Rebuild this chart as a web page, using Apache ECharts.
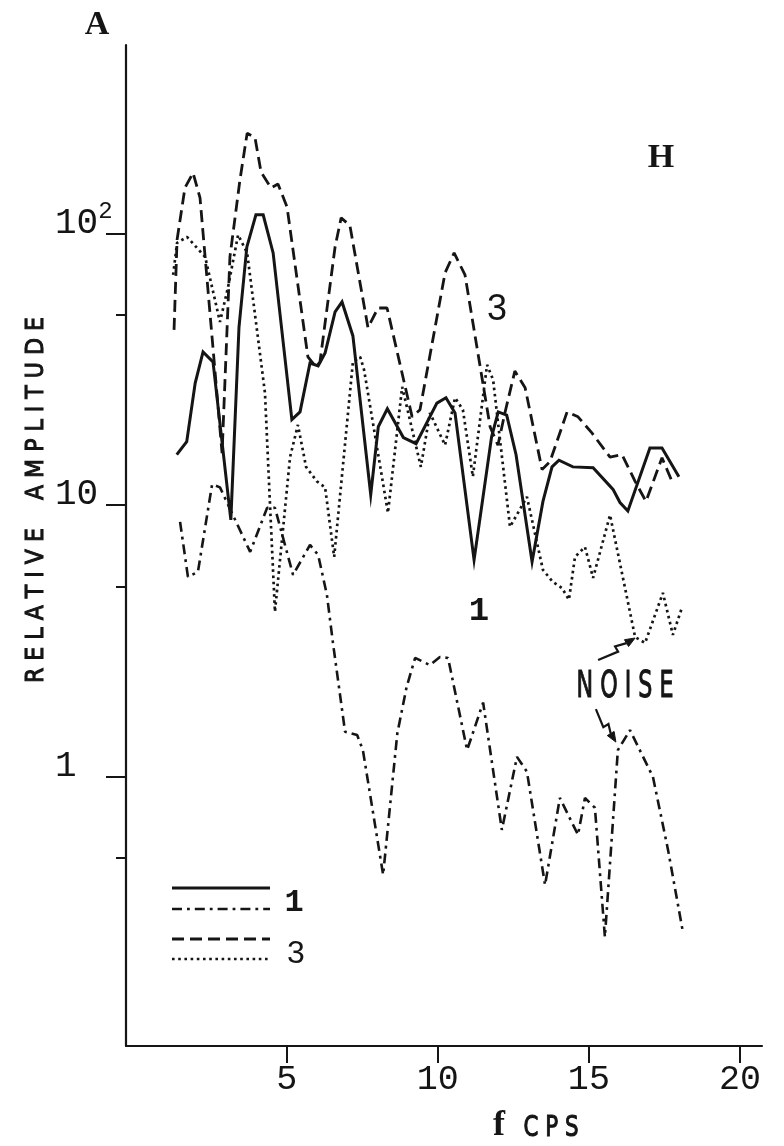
<!DOCTYPE html>
<html>
<head>
<meta charset="utf-8">
<script src="https://cdn.jsdelivr.net/npm/echarts@6/dist/echarts.min.js"></script>
<style>
  html, body { margin: 0; padding: 0; background: #ffffff; }
  #chart { width: 784px; height: 1146px; }
</style>
</head>
<body>
<div id="chart"></div>
<script>
// Horizontal-component spectra: relative amplitude against frequency (cps).
// Station 1 and station 3, each with its record spectrum and its noise spectrum.

const freq1Signal = [1.36, 1.69, 1.97, 2.23, 2.56, 3.15, 3.42, 3.68, 3.98, 4.22, 4.55, 5.17, 5.44, 5.77, 6.04,
  6.27, 6.60, 6.83, 7.19, 7.78, 8.03, 8.33, 8.86, 9.28, 9.97, 10.27, 10.57, 11.20, 11.78, 12.00,
  12.28, 12.59, 13.12, 13.48, 13.78, 14.01, 14.47, 15.14, 15.80, 16.03, 16.29, 17.02, 17.42, 17.98];
const amp1Signal = [15.3, 17.1, 28.1, 36.6, 33.6, 8.8, 45.2, 89.1, 117, 117, 84.7, 20.6, 22.0, 33.3, 32.5,
  36.3, 51.4, 55.9, 41.9, 10.9, 19.4, 22.6, 17.7, 16.8, 23.7, 24.8, 21.8, 6.27, 17.8, 22.0,
  21.4, 15.3, 6.17, 10.3, 13.8, 14.6, 13.8, 13.7, 11.4, 10.2, 9.5, 16.2, 16.2, 12.7];

const freq1Noise = [1.47, 1.73, 2.06, 2.53, 2.79, 3.79, 4.35, 4.61, 5.21, 5.77, 6.04, 6.33, 6.53, 6.93, 7.33,
  7.52, 8.19, 8.66, 8.97, 9.25, 9.74, 10.07, 10.34, 10.97, 11.50, 12.12, 12.62, 12.95, 13.55, 14.04,
  14.64, 14.87, 15.20, 15.53, 15.96, 16.36, 17.12, 17.62, 18.11];
const amp1Noise = [8.66, 5.43, 5.66, 11.9, 11.6, 6.71, 9.75, 9.75, 5.52, 7.12, 6.54, 4.66, 3.10, 1.46, 1.42,
  1.25, 0.434, 1.44, 2.14, 2.73, 2.57, 2.75, 2.73, 1.25, 1.87, 0.635, 1.18, 1.04, 0.398, 0.833,
  0.609, 0.833, 0.766, 0.256, 1.25, 1.48, 0.996, 0.536, 0.268];

const freq3Signal = [1.27, 1.37, 1.63, 1.90, 2.13, 2.86, 3.12, 3.45, 3.69, 3.95, 4.15, 4.48, 4.71, 5.01, 5.70,
  5.97, 6.10, 6.60, 6.80, 7.09, 7.69, 8.02, 8.32, 9.15, 9.41, 10.24, 10.54, 10.90, 11.73, 11.99,
  12.22, 12.55, 12.89, 13.45, 13.71, 14.28, 14.64, 15.10, 15.70, 16.10, 16.53, 16.89, 17.42, 17.78];
const amp3Signal = [44.1, 94.6, 147, 167, 135, 15.5, 81.9, 157, 234, 225, 168, 147, 152, 125, 35.1,
  32.2, 33.6, 89.1, 114, 107, 44.9, 53.1, 53.1, 21.1, 22.4, 71.5, 84.7, 70.3, 19.4, 16.6,
  21.8, 31.1, 27.0, 13.5, 14.4, 22.0, 21.1, 18.4, 15.0, 15.3, 12.2, 10.3, 14.9, 12.0];

const freq3Noise = [1.24, 1.37, 1.70, 2.30, 2.79, 3.06, 3.39, 3.69, 4.28, 4.45, 4.61, 5.11, 5.37, 5.64, 6.00,
  6.27, 6.57, 7.19, 7.43, 7.56, 8.35, 8.82, 9.44, 9.74, 10.24, 10.57, 10.83, 11.16, 11.63, 11.83,
  12.39, 12.95, 13.48, 13.81, 14.11, 14.34, 14.54, 14.87, 15.14, 15.70, 16.53, 16.86, 17.45, 17.78, 18.08];
const amp3Noise = [70.3, 92.2, 97.0, 81.9, 47.2, 63.5, 98.7, 84.7, 25.8, 9.8, 4.04, 15.0, 19.7, 13.8, 12.2,
  11.6, 6.43, 33.6, 35.1, 31.4, 9.34, 27.2, 13.8, 21.8, 16.6, 24.8, 22.4, 12.7, 32.8, 28.9,
  8.30, 10.7, 5.76, 5.20, 4.94, 4.47, 6.43, 7.00, 5.38, 9.18, 3.26, 3.10, 4.74, 3.32, 4.18];

const xTickValues = [5, 10, 15, 20];
const yMajorTicks = [1, 10, 100];
const yMinorTicks = [0.5, 5, 50];
// points the two NOISE arrows end on: [frequency, amplitude]
const noiseArrow3 = [16.53, 3.26];
const noiseArrow1 = [15.96, 1.25];

const ink = '#151515';
const pairs = (f, a) => f.map((x, i) => [x, a[i]]);

const chart = echarts.init(document.getElementById('chart'), null, { renderer: 'canvas' });

const measureCtx = document.createElement('canvas').getContext('2d');
function textWidth(text, font) {
  measureCtx.font = font;
  return measureCtx.measureText(text).width;
}

// lettering squeezed along its run to a given length, strokes slightly thickened
function fittedText(text, size, family, cx, cy, targetLen, rotation) {
  const font = 'normal ' + size + 'px ' + family;
  const w = textWidth(text, font);
  return {
    type: 'text', x: cx, y: cy, rotation: rotation || 0,
    scaleX: targetLen / w, scaleY: 1, z: 10,
    style: { text, font, fill: ink, stroke: ink, lineWidth: 1.1,
             align: 'center', verticalAlign: 'middle', textAlign: 'center', textVerticalAlign: 'middle' }
  };
}
function plainText(text, size, family, weight, cx, cy) {
  return {
    type: 'text', x: cx, y: cy, z: 10,
    style: { text, font: weight + ' ' + size + 'px ' + family, fill: ink,
             align: 'center', verticalAlign: 'middle', textAlign: 'center', textVerticalAlign: 'middle' }
  };
}

const solidStyle = { color: ink, width: 3, type: 'solid', cap: 'butt', join: 'miter' };
const dashStyle = { color: ink, width: 2.8, type: [12, 6], cap: 'butt' };
const dotStyle = { color: ink, width: 2.7, type: [2.6, 3.6], cap: 'butt' };
const dashDotStyle = { color: ink, width: 2.6, type: [10, 5, 2.8, 5], cap: 'butt' };

const option = {
  backgroundColor: '#ffffff',
  animation: false,
  grid: { left: 126, top: 45, width: 636, height: 1001 },
  xAxis: {
    type: 'value', min: -0.32, max: 20.73,
    axisLine: { show: true, onZero: false, lineStyle: { color: ink, width: 2.2 } },
    axisTick: { show: true, inside: false, length: 17, customValues: xTickValues,
                lineStyle: { color: ink, width: 2 } },
    axisLabel: { customValues: xTickValues, margin: 16, color: ink,
                 fontFamily: 'Liberation Mono', fontSize: 35 },
    splitLine: { show: false }
  },
  yAxis: [
    {
      type: 'log', logBase: 10, min: 0.1016, max: 494, position: 'left', offset: 0,
      axisLine: { show: true, onZero: false, lineStyle: { color: ink, width: 2.2 } },
      axisTick: { show: true, inside: false, length: 20, customValues: yMajorTicks,
                  lineStyle: { color: ink, width: 2 } },
      axisLabel: {
        customValues: yMajorTicks, align: 'left', margin: 71, verticalAlign: 'bottom',
        formatter: v => (v === 100 ? '{n|10}{s|2}' : '{n|' + v + '}'),
        rich: {
          // digits sit just above their tick; the exponent is lifted by its bottom padding
          n: { fontFamily: 'Liberation Mono', fontSize: 36, lineHeight: 20, color: ink },
          s: { fontFamily: 'Liberation Mono', fontSize: 24, lineHeight: 1, padding: [0, 0, 24, 0], color: ink }
        }
      },
      splitLine: { show: false }, minorTick: { show: false }
    },
    {
      type: 'log', logBase: 10, min: 0.1016, max: 494, position: 'left', offset: 0,
      axisLine: { show: false, onZero: false },
      axisTick: { show: true, inside: false, length: 10, customValues: yMinorTicks,
                  lineStyle: { color: ink, width: 2 } },
      axisLabel: { show: false },
      splitLine: { show: false }
    }
  ],
  series: [
    { name: '1', type: 'line', data: pairs(freq1Signal, amp1Signal), symbol: 'none', lineStyle: solidStyle, z: 4 },
    { name: '1 noise', type: 'line', data: pairs(freq1Noise, amp1Noise), symbol: 'none', lineStyle: dashDotStyle, z: 3 },
    { name: '3', type: 'line', data: pairs(freq3Signal, amp3Signal), symbol: 'none', lineStyle: dashStyle, z: 3 },
    { name: '3 noise', type: 'line', data: pairs(freq3Noise, amp3Noise), symbol: 'none', lineStyle: dotStyle, z: 3 }
  ]
};
chart.setOption(option);

// zig-zag arrow ending at a point, coming from an offset tail
function zigArrow(tip, dx, dy) {
  const tail = [tip[0] + dx, tip[1] + dy];
  const d = [tip[0] - tail[0], tip[1] - tail[1]];
  const len = Math.hypot(d[0], d[1]);
  const u = [d[0] / len, d[1] / len];
  const n = [-u[1], u[0]];
  const m1 = [tail[0] + 0.5 * d[0] + 3 * n[0], tail[1] + 0.5 * d[1] + 3 * n[1]];
  const m2 = [tail[0] + 0.5 * d[0] - 3 * n[0], tail[1] + 0.5 * d[1] - 3 * n[1]];
  const hl = 10, hw = 4;
  const base = [tip[0] - hl * u[0], tip[1] - hl * u[1]];
  return [
    { type: 'polyline', z: 10, shape: { points: [tail, m1, m2, base] },
      style: { stroke: ink, lineWidth: 2.2, fill: null } },
    { type: 'polygon', z: 10,
      shape: { points: [tip, [base[0] + hw * n[0], base[1] + hw * n[1]], [base[0] - hw * n[0], base[1] - hw * n[1]]] },
      style: { fill: ink, stroke: ink, lineWidth: 1 } }
  ];
}

const p3 = chart.convertToPixel({ seriesIndex: 3 }, noiseArrow3);
const p1 = chart.convertToPixel({ seriesIndex: 1 }, noiseArrow1);
const tip3 = [p3[0], p3[1] + 1];
const tip1 = [p1[0] - 2, p1[1] - 8];

const legendLines = [
  { y: 888, style: { lineDash: null, lineWidth: 3 } },
  { y: 909, style: { lineDash: [10, 5, 2.8, 5], lineWidth: 2.6 } },
  { y: 939, style: { lineDash: [12, 6], lineWidth: 2.8 } },
  { y: 959, style: { lineDash: [2.6, 3.6], lineWidth: 2.7 } }
].map(l => ({
  type: 'line', z: 10,
  shape: { x1: 172, y1: l.y, x2: 270, y2: l.y },
  style: Object.assign({ stroke: ink, lineCap: 'butt' }, l.style)
}));

const graphics = [].concat(
  legendLines,
  [
    plainText('1', 32, '"Liberation Mono"', 'bold', 294, 903),
    plainText('3', 32, '"Liberation Sans"', 'normal', 296, 954),
    plainText('A', 34, '"Liberation Serif"', 'bold', 97, 25),
    plainText('H', 34, '"Liberation Serif"', 'bold', 661, 158),
    plainText('3', 36, '"Liberation Sans"', 'normal', 497, 310),
    plainText('1', 34, '"Liberation Mono"', 'bold', 479, 611),
    fittedText('N O I S E', 37, '"DejaVu Sans"', 625, 687, 97),
    plainText('f', 36, '"Liberation Serif"', 'bold', 499, 1126),
    fittedText('C P S', 29, '"DejaVu Sans"', 551, 1128, 55),
    fittedText('R E L A T I V E    A M P L I T U D E', 25, '"DejaVu Sans"', 36, 500, 366, Math.PI / 2)
  ],
  zigArrow(tip3, -37, 22),
  zigArrow(tip1, -20, -33)
);

chart.setOption({ graphic: { elements: graphics } });
</script>
</body>
</html>
